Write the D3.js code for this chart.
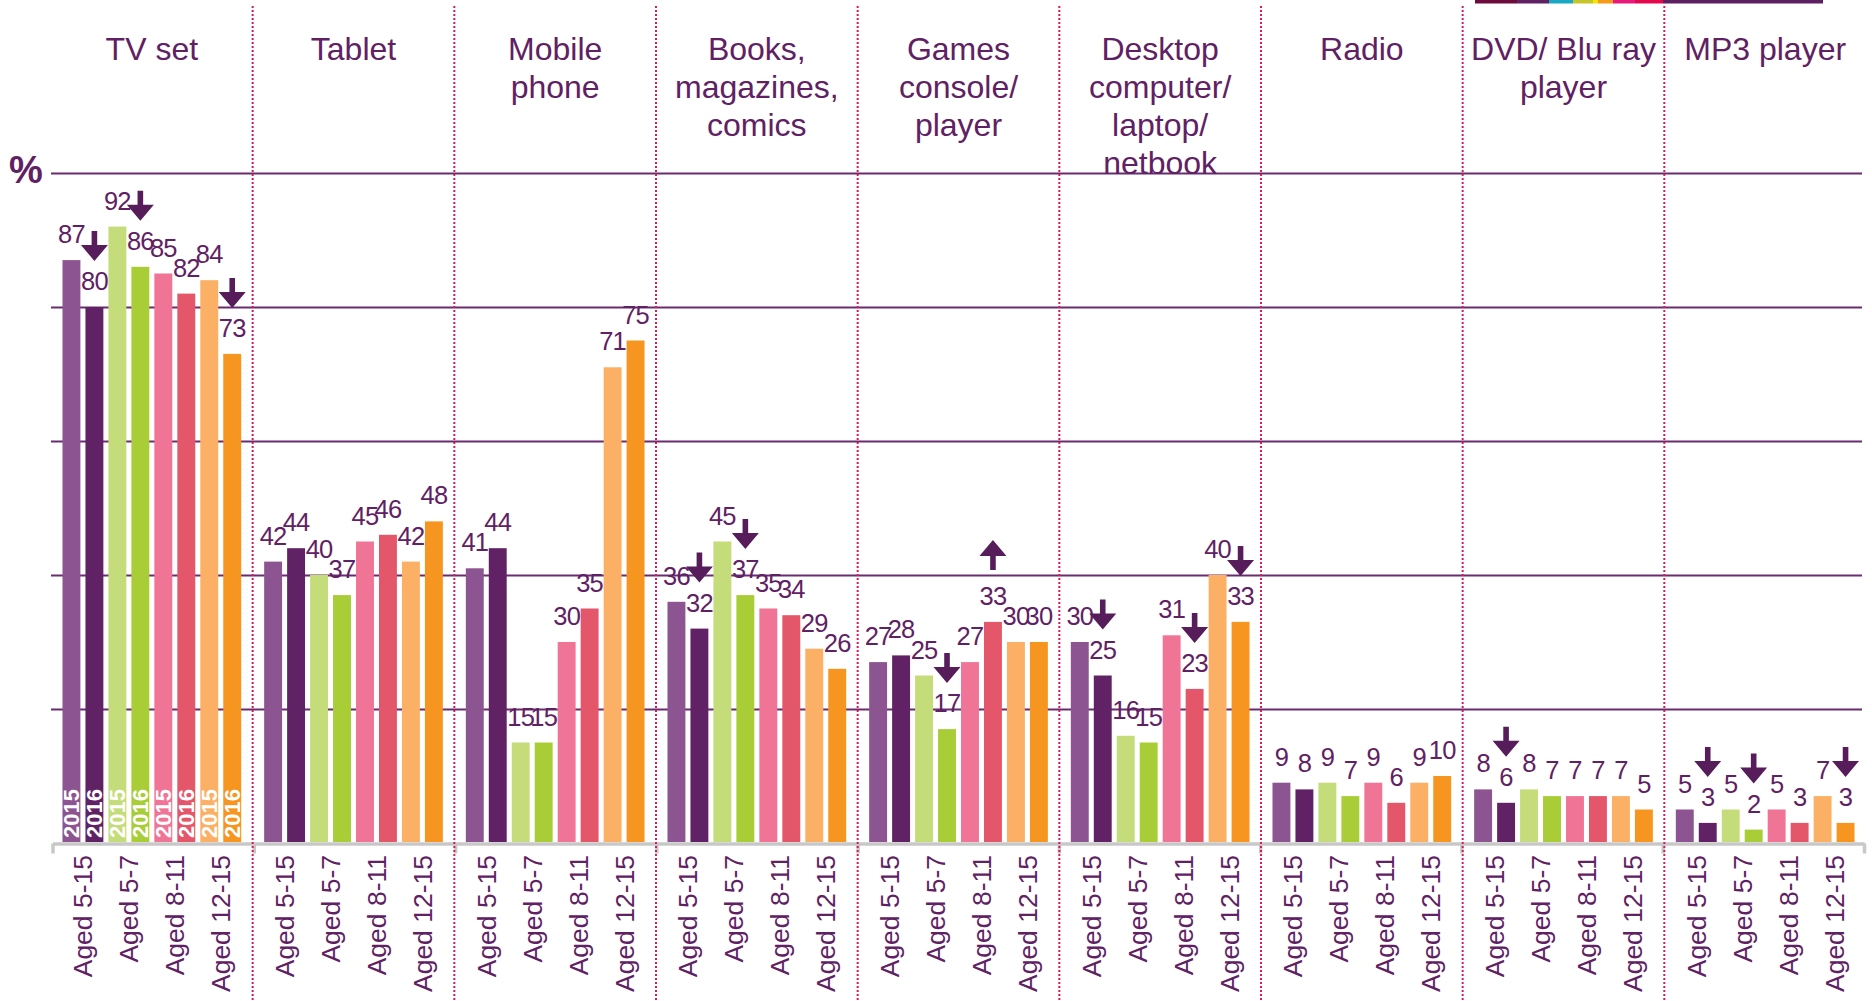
<!DOCTYPE html>
<html>
<head>
<meta charset="utf-8">
<script src="https://cdn.jsdelivr.net/npm/d3@7"></script>
<style>
  html, body { margin: 0; padding: 0; background: #ffffff; }
  svg { display: block; font-family: "Liberation Sans", Arial, sans-serif; }
</style>
</head>
<body>
<script>
// ---------------- DATA ----------------
const categories = ["TV set", "Tablet", "Mobile phone", "Books, magazines, comics",
  "Games console/ player", "Desktop computer/ laptop/ netbook", "Radio",
  "DVD/ Blu ray player", "MP3 player"];
const categoryTitleLines = [
  ["TV set"], ["Tablet"], ["Mobile", "phone"], ["Books,", "magazines,", "comics"],
  ["Games", "console/", "player"], ["Desktop", "computer/", "laptop/", "netbook"],
  ["Radio"], ["DVD/ Blu ray", "player"], ["MP3 player"]
];
const ageGroups = ["Aged 5-15", "Aged 5-7", "Aged 8-11", "Aged 12-15"];
const years = ["2015", "2016"];
// series order: 5-15 2015, 5-15 2016, 5-7 2015, 5-7 2016, 8-11 2015, 8-11 2016, 12-15 2015, 12-15 2016
const tvSet    = [87, 80, 92, 86, 85, 82, 84, 73];
const tablet   = [42, 44, 40, 37, 45, 46, 42, 48];
const mobile   = [41, 44, 15, 15, 30, 35, 71, 75];
const books    = [36, 32, 45, 37, 35, 34, 29, 26];
const games    = [27, 28, 25, 17, 27, 33, 30, 30];
const desktop  = [30, 25, 16, 15, 31, 23, 40, 33];
const radio    = [9, 8, 9, 7, 9, 6, 9, 10];
const dvd      = [8, 6, 8, 7, 7, 7, 7, 5];
const mp3      = [5, 3, 5, 2, 5, 3, 7, 3];
const valuesByCategory = [tvSet, tablet, mobile, books, games, desktop, radio, dvd, mp3];
// significant changes: [category index, series index, direction]
const changeArrows = [
  [0, 1, "down"], [0, 3, "down"], [0, 7, "down"],
  [3, 1, "down"], [3, 3, "down"],
  [4, 3, "down"], [4, 5, "up"],
  [5, 1, "down"], [5, 5, "down"], [5, 7, "down"],
  [7, 1, "down"],
  [8, 1, "down"], [8, 3, "down"], [8, 7, "down"]
];
const yTicks = [20, 40, 60, 80, 100];
const seriesColors = ["#8c5591", "#612265", "#c4dc79", "#a8cd37", "#f07496", "#e4576a", "#fbb065", "#f6951f"];

// ---------------- LAYOUT ----------------
const W = 1872, H = 1001;
const textColor = "#5f2163";
const svg = d3.select("body").append("svg").attr("width", W).attr("height", H);

const x0 = d3.scaleBand().domain(d3.range(categories.length)).range([51, 1866]);
const x1 = d3.scaleBand().domain(d3.range(8)).range([0, x0.bandwidth()])
  .paddingInner(0.22).paddingOuter(0.5);
const y = d3.scaleLinear().domain([0, 100]).range([843, 173]);

// logo strip (decoration at top right)
const logoSegs = [["#6d0c3c", 42], ["#5f2163", 32], ["#1aa8c4", 24], ["#c5c42b", 20], ["#f5e600", 5],
  ["#f59a1b", 15], ["#e9197c", 22], ["#e3084e", 28], ["#5c1f61", 160]];
let lx = 1475;
logoSegs.forEach(([c, w]) => {
  svg.append("rect").attr("x", lx).attr("y", 0).attr("width", w).attr("height", 3.5).attr("fill", c);
  lx += w;
});

// gridlines
const grid = svg.append("g").attr("transform", "translate(51,0)")
  .call(d3.axisLeft(y).tickValues(yTicks).tickSize(-(1862 - 51)).tickFormat(""));
grid.select(".domain").remove();
grid.selectAll(".tick line").attr("stroke", "#6a2c70").attr("stroke-width", 2);

// % label
svg.append("text").attr("x", 9).attr("y", 183).attr("fill", textColor)
  .attr("font-size", 38).attr("font-weight", "bold").text("%");

// bottom axis (grey) with ticks at panel boundaries
const xb = d3.scaleLinear().domain([0, categories.length]).range([52.5, 1864]);
const axis = svg.append("g").attr("transform", "translate(0,843.5)")
  .call(d3.axisBottom(xb).ticks(categories.length).tickSize(10).tickSizeOuter(0).tickFormat(""));
axis.select(".domain").attr("stroke", "#c8c8c8").attr("stroke-width", 3.5);
axis.selectAll(".tick line").attr("stroke", "#c8c8c8").attr("stroke-width", 3.5);

// panels
const panels = svg.selectAll("g.panel").data(categories).join("g")
  .attr("class", "panel")
  .attr("transform", (d, i) => `translate(${x0(i)},0)`);

// bars
panels.selectAll("rect.bar").data((d, i) => valuesByCategory[i]).join("rect")
  .attr("class", "bar")
  .attr("x", (d, j) => x1(j))
  .attr("y", d => y(d))
  .attr("width", x1.bandwidth())
  .attr("height", d => y(0) - y(d) - 1)
  .attr("fill", (d, j) => seriesColors[j]);

// value labels
panels.selectAll("text.val").data((d, i) => valuesByCategory[i]).join("text")
  .attr("class", "val")
  .attr("x", (d, j) => x1(j) + x1.bandwidth() / 2)
  .attr("y", d => y(d) - 17)
  .attr("text-anchor", "middle")
  .attr("fill", textColor)
  .attr("font-size", 25.5)
  .attr("letter-spacing", -0.8)
  .text(d => d);

// year labels inside TV set bars
panels.filter((d, i) => i === 0).selectAll("text.yr").data(d3.range(8)).join("text")
  .attr("class", "yr")
  .attr("transform", j => `translate(${x1(j) + x1.bandwidth() / 2},838) rotate(-90)`)
  .attr("dy", "0.36em")
  .attr("fill", "#ffffff")
  .attr("font-size", 22)
  .attr("font-weight", "bold")
  .text(j => years[j % 2]);

// age group axis labels
panels.selectAll("text.age").data(ageGroups).join("text")
  .attr("class", "age")
  .attr("transform", (d, k) => {
    const cx = (x1(2 * k) + x1(2 * k + 1) + x1.bandwidth()) / 2;
    return `translate(${cx},855) rotate(-90)`;
  })
  .attr("dy", "0.36em")
  .attr("text-anchor", "end")
  .attr("fill", textColor)
  .attr("font-size", 26.5)
  .text(d => d);

// category titles
panels.each(function (d, i) {
  const t = d3.select(this).append("text")
    .attr("text-anchor", "middle").attr("fill", textColor).attr("font-size", 32);
  categoryTitleLines[i].forEach((line, li) => {
    t.append("tspan").attr("x", x0.bandwidth() / 2).attr("y", 60 + li * 38).text(line);
  });
});

// arrows
const arrowPath = dir => {
  const hw = 13.5, hh = 16, sw = 2.8, L = 30;
  if (dir === "down") {
    return `M${-sw},${-L} L${sw},${-L} L${sw},${-hh} L${hw},${-hh} L0,0 L${-hw},${-hh} L${-sw},${-hh} Z`;
  }
  return `M${-sw},0 L${sw},0 L${sw},${-(L - hh)} L${hw},${-(L - hh)} L0,${-L} L${-hw},${-(L - hh)} L${-sw},${-(L - hh)} Z`;
};
svg.selectAll("path.arrow").data(changeArrows).join("path")
  .attr("class", "arrow")
  .attr("transform", ([c, s, dir]) => {
    const cx = x0(c) + x1(s) + x1.bandwidth() / 2;
    const cy = y(valuesByCategory[c][s]) - (dir === "down" ? 46 : 52);
    return `translate(${cx},${cy})`;
  })
  .attr("d", d => arrowPath(d[2]))
  .attr("fill", "#561d5a");

// dotted separators between panels
svg.selectAll("line.sep").data(d3.range(1, categories.length)).join("line")
  .attr("class", "sep")
  .attr("x1", i => x0(i)).attr("x2", i => x0(i))
  .attr("y1", 6).attr("y2", H)
  .attr("stroke", "#e0165a").attr("stroke-width", 2).attr("stroke-dasharray", "2,2");
</script>
</body>
</html>
